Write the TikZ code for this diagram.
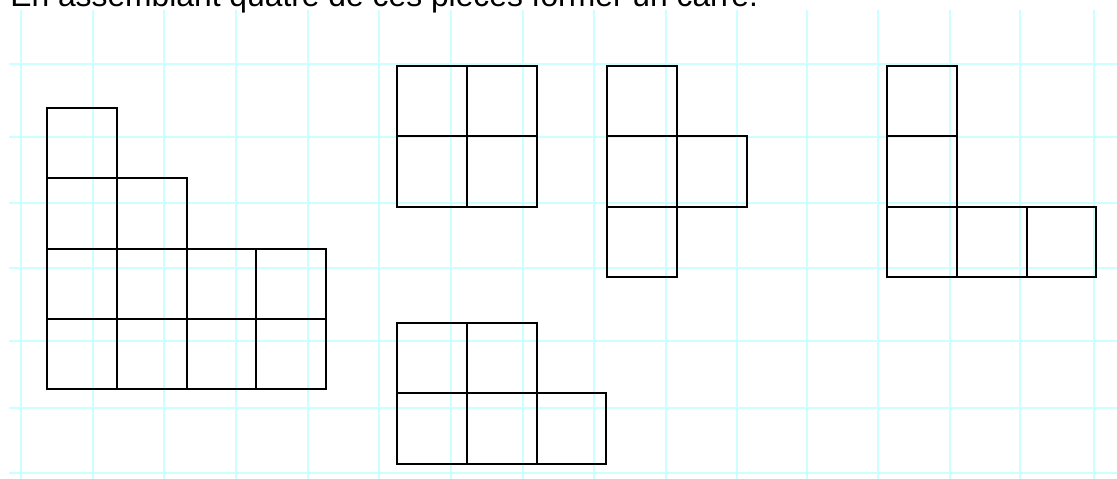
\documentclass[tikz,border=0pt]{standalone}
\usepackage{fontspec}
\setmainfont{Liberation Sans}

\definecolor{quadrillage}{RGB}{204,255,255}
\tikzset{
  carreau/.style={draw=black, line width=1.1pt},
  ligne/.style={draw=quadrillage, line width=0.9pt}
}
\newcommand\pcx{69.8}
\newcommand\pcy{70.3}

\begin{document}
\begin{tikzpicture}[x=0.02cm, y=-0.02cm]
    \useasboundingbox (0,0) rectangle (1117,479);

    % quadrillage
    \foreach \x in {21,93,164,236,308,379,451,523,594,666,737,807,878,950,1020,1094}
        \draw[ligne] (\x,10) -- (\x,479);
    \foreach \y in {64,137,203,268,341,408,473}
        \draw[ligne] (9,\y) -- (1117,\y);

    % consigne (coupee en haut)
    \node[anchor=base west, inner sep=0pt, font=\fontsize{18.1pt}{20pt}\selectfont] (consigne) at (10,7) {En assemblant quatre de ces pièces former un carré.};

    % grande figure
    \foreach \i/\j in {0/0, 0/1, 0/2, 0/3, 1/1, 1/2, 1/3, 2/2, 2/3, 3/2, 3/3}
        \draw[carreau, shift={(47,108)}] (\i*\pcx,\j*\pcy) rectangle ++(\pcx,\pcy);

    % pieces
    \foreach \i/\j in {0/0, 1/0, 0/1, 1/1}
        \draw[carreau, shift={(397,66)}] (\i*\pcx,\j*\pcy) rectangle ++(\pcx,\pcy);
    \foreach \i/\j in {0/0, 0/1, 0/2, 1/1}
        \draw[carreau, shift={(607,66)}] (\i*\pcx,\j*\pcy) rectangle ++(\pcx,\pcy);
    \foreach \i/\j in {0/0, 0/1, 0/2, 1/2, 2/2}
        \draw[carreau, shift={(887,66)}] (\i*\pcx,\j*\pcy) rectangle ++(\pcx,\pcy);
    \foreach \i/\j in {0/0, 1/0, 0/1, 1/1, 2/1}
        \draw[carreau, shift={(397,323)}] (\i*\pcx,\j*\pcy) rectangle ++(\pcx,\pcy);
\end{tikzpicture}
\end{document}
